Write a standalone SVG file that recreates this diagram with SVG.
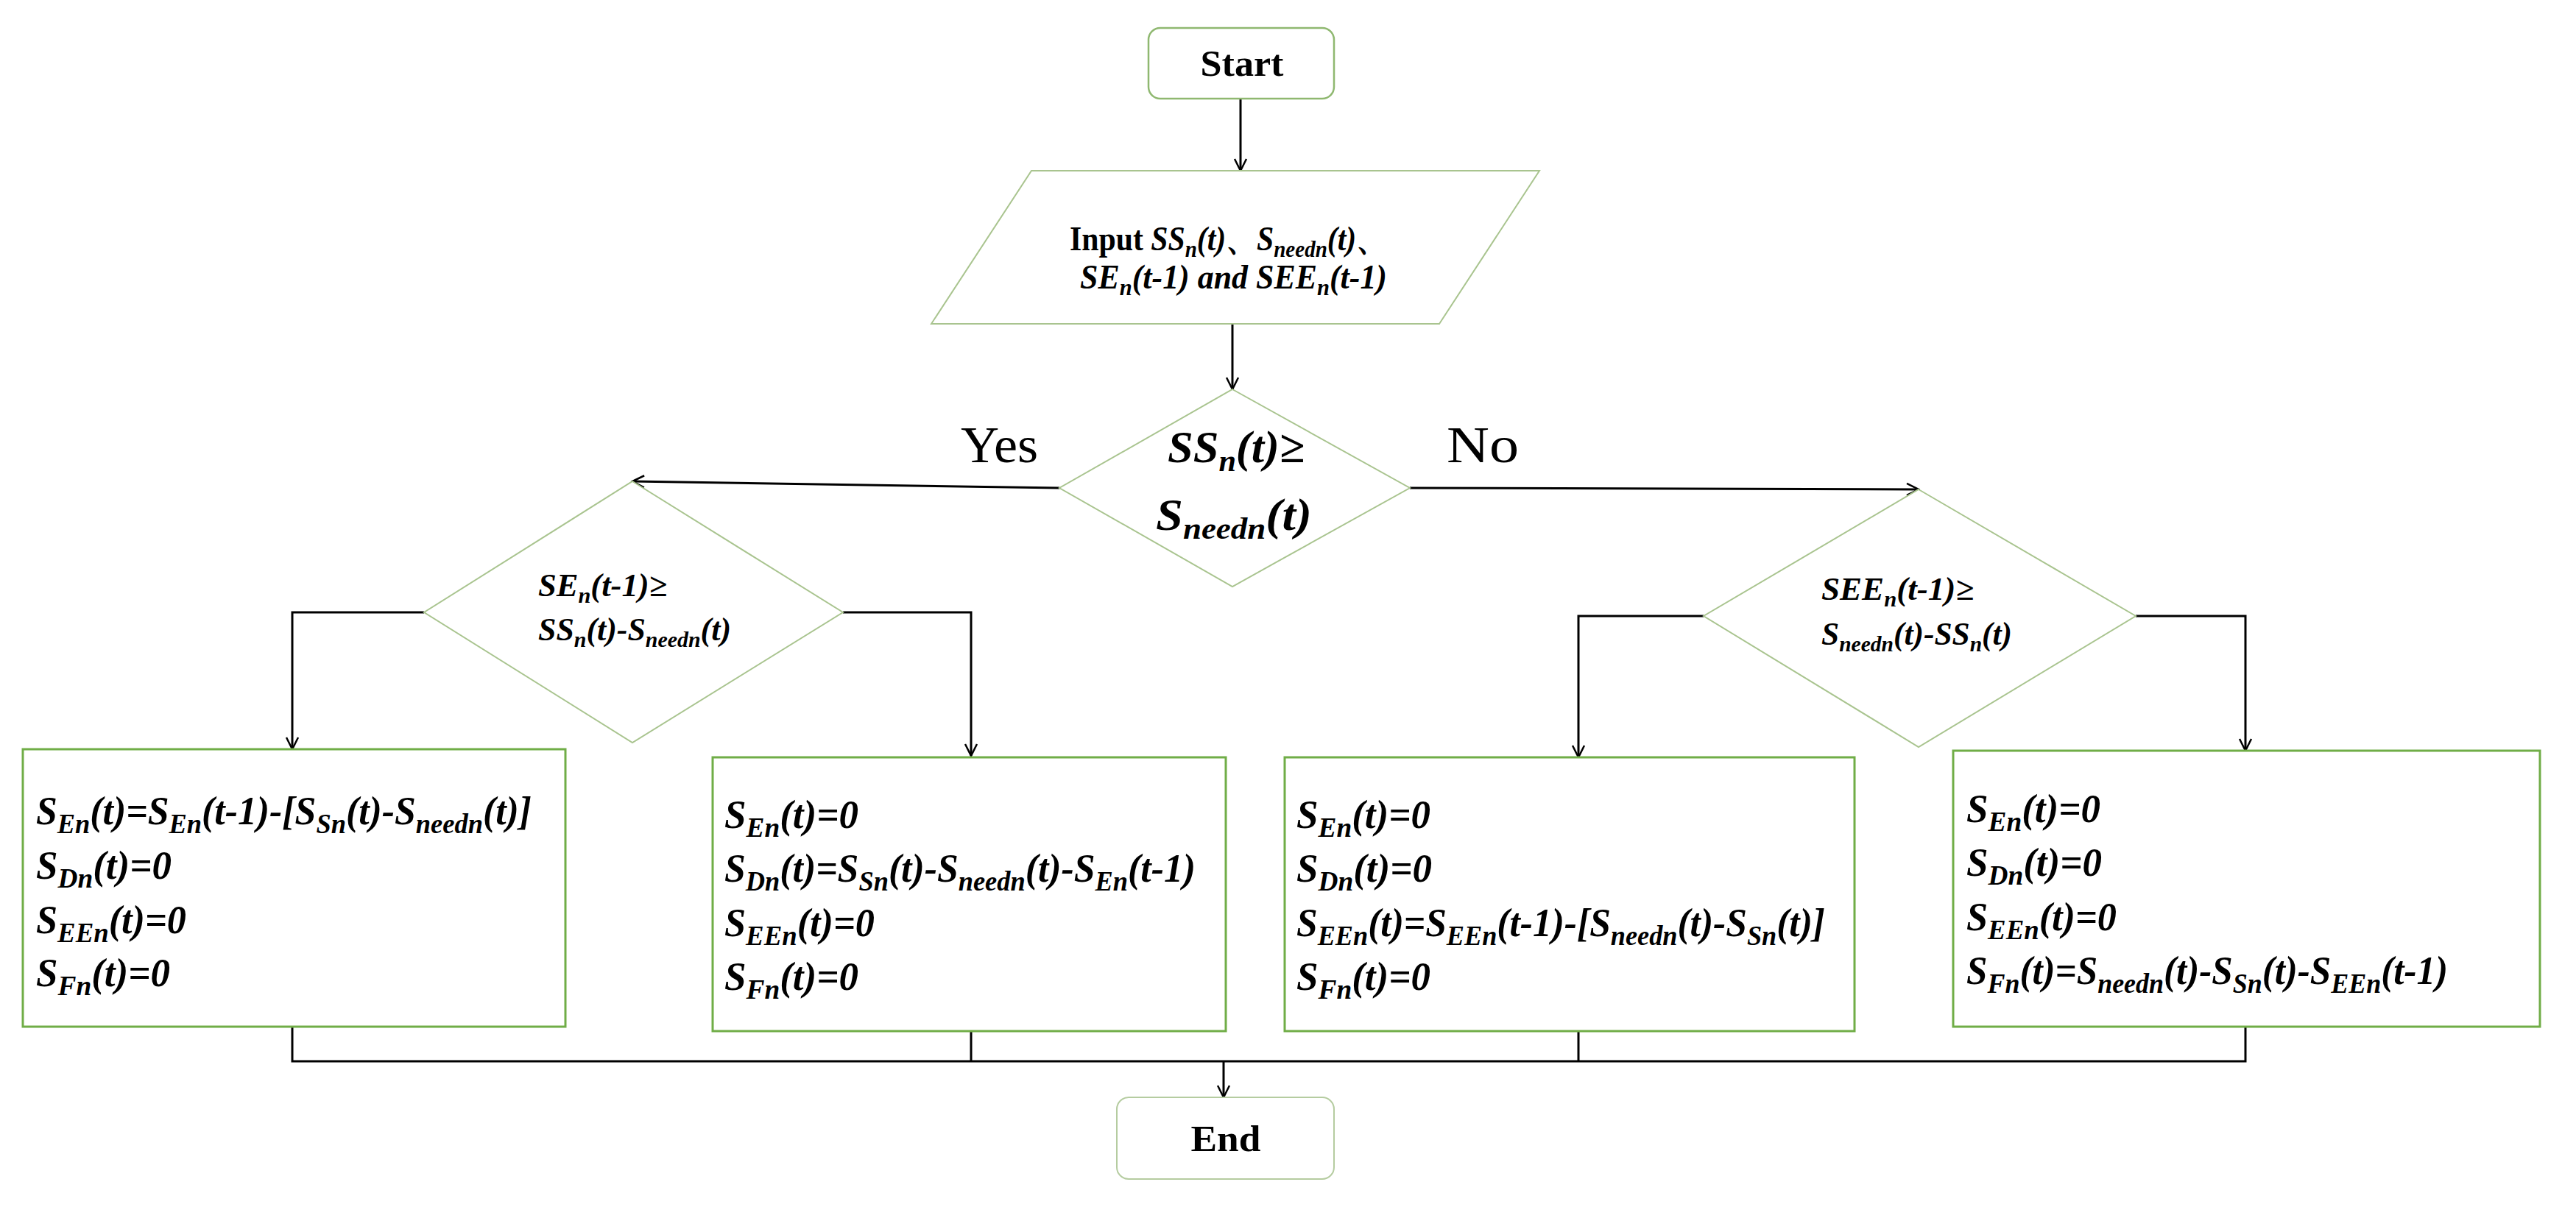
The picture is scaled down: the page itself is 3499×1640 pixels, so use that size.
<svg xmlns="http://www.w3.org/2000/svg" width="3499" height="1640" viewBox="0 0 3499 1640">
<style>
.t{font-family:"Liberation Serif",serif;font-weight:bold;font-style:italic;fill:#000}
.u{font-family:"Liberation Serif",serif;font-weight:bold;fill:#000}
.box{fill:#fff;stroke:#70ad47;stroke-width:3}
.dia{fill:#fff;stroke:#a9c48f;stroke-width:2}
.c{fill:none;stroke:#000;stroke-width:3}
</style>
<defs>
<marker id="a" viewBox="0 0 20 20" refX="18" refY="10" markerWidth="20" markerHeight="20" markerUnits="userSpaceOnUse" orient="auto"><path d="M2,2 L18,10 L2,18" fill="none" stroke="#000" stroke-width="2.5"/></marker>
</defs>
<rect width="3499" height="1640" fill="#fff"/>
<g id="connectors">
<path class="c" d="M1685,134 V232" marker-end="url(#a)"/>
<path class="c" d="M1674,440 V529" marker-end="url(#a)"/>
<path class="c" d="M1439,663 L859,654" marker-end="url(#a)"/>
<path class="c" d="M1915,663 L2606,665" marker-end="url(#a)"/>
<path class="c" d="M576,832 H397 V1018" marker-end="url(#a)"/>
<path class="c" d="M1145,832 H1319 V1027" marker-end="url(#a)"/>
<path class="c" d="M2314,837 H2144 V1029" marker-end="url(#a)"/>
<path class="c" d="M2901,837 H3050 V1020" marker-end="url(#a)"/>
<path class="c" d="M397,1395 V1442 H3050 V1395 M1319,1401 V1442 M2144,1401 V1442"/>
<path class="c" d="M1662,1442 V1491" marker-end="url(#a)"/>
</g>
<g id="start">
<rect x="1560" y="38" width="252" height="96" rx="16" fill="#fff" stroke="#8fb870" stroke-width="2.5"/>
<text class="u" x="1687" y="103" font-size="50" text-anchor="middle" textLength="113" lengthAdjust="spacingAndGlyphs">Start</text>
</g>
<g id="input">
<polygon class="dia" points="1401,232 2091,232 1955,440 1265,440"/>
<text class="u" x="1453" y="340" font-size="46" textLength="431" lengthAdjust="spacingAndGlyphs">Input <tspan class="t">SS<tspan font-size="32" dy="9">n</tspan><tspan dy="-9">(t)</tspan></tspan>、<tspan class="t">S<tspan font-size="32" dy="9">needn</tspan><tspan dy="-9">(t)</tspan></tspan>、</text>
<text class="t" x="1467" y="392" font-size="46" textLength="417" lengthAdjust="spacingAndGlyphs">SE<tspan font-size="32" dy="9">n</tspan><tspan dy="-9">(t-1) and SEE</tspan><tspan font-size="32" dy="9">n</tspan><tspan dy="-9">(t-1)</tspan></text>
</g>
<g id="d1">
<polygon class="dia" points="1674,529 1915,663 1674,797 1439,663"/>
<text class="t" x="1586" y="628" font-size="62" textLength="186" lengthAdjust="spacingAndGlyphs">SS<tspan font-size="42" dy="12">n</tspan><tspan dy="-12">(t)≥</tspan></text>
<text class="t" x="1570" y="720" font-size="62" textLength="212" lengthAdjust="spacingAndGlyphs">S<tspan font-size="42" dy="12">needn</tspan><tspan dy="-12">(t)</tspan></text>
</g>
<g id="labels">
<text x="1305" y="628" font-family="Liberation Serif,serif" font-size="70" textLength="105" lengthAdjust="spacingAndGlyphs">Yes</text>
<text x="1965" y="628" font-family="Liberation Serif,serif" font-size="70" textLength="98" lengthAdjust="spacingAndGlyphs">No</text>
</g>
<g id="d2">
<polygon class="dia" points="859,654 1145,832 859,1009 576,832"/>
<text class="t" x="731" y="810" font-size="44" textLength="175" lengthAdjust="spacingAndGlyphs">SE<tspan font-size="30" dy="9">n</tspan><tspan dy="-9">(t-1)≥</tspan></text>
<text class="t" x="731" y="870" font-size="44" textLength="262" lengthAdjust="spacingAndGlyphs">SS<tspan font-size="30" dy="9">n</tspan><tspan dy="-9">(t)-S</tspan><tspan font-size="30" dy="9">needn</tspan><tspan dy="-9">(t)</tspan></text>
</g>
<g id="d3">
<polygon class="dia" points="2606,665 2901,837 2606,1015 2314,837"/>
<text class="t" x="2474" y="815" font-size="44" textLength="207" lengthAdjust="spacingAndGlyphs">SEE<tspan font-size="30" dy="9">n</tspan><tspan dy="-9">(t-1)≥</tspan></text>
<text class="t" x="2474" y="876" font-size="44" textLength="259" lengthAdjust="spacingAndGlyphs">S<tspan font-size="30" dy="9">needn</tspan><tspan dy="-9">(t)-SS</tspan><tspan font-size="30" dy="9">n</tspan><tspan dy="-9">(t)</tspan></text>
</g>
<g id="b1">
<rect class="box" x="31" y="1018" width="737" height="377" stroke="#a9c48f"/>
<text class="t" x="49" y="1120" font-size="54" textLength="673" lengthAdjust="spacingAndGlyphs">S<tspan font-size="38" dy="12">En</tspan><tspan dy="-12">(t)=S</tspan><tspan font-size="38" dy="12">En</tspan><tspan dy="-12">(t-1)-[S</tspan><tspan font-size="38" dy="12">Sn</tspan><tspan dy="-12">(t)-S</tspan><tspan font-size="38" dy="12">needn</tspan><tspan dy="-12">(t)]</tspan></text>
<text class="t" x="49" y="1194" font-size="54" textLength="184" lengthAdjust="spacingAndGlyphs">S<tspan font-size="38" dy="12">Dn</tspan><tspan dy="-12">(t)=0</tspan></text>
<text class="t" x="49" y="1268" font-size="54" textLength="204" lengthAdjust="spacingAndGlyphs">S<tspan font-size="38" dy="12">EEn</tspan><tspan dy="-12">(t)=0</tspan></text>
<text class="t" x="49" y="1340" font-size="54" textLength="182" lengthAdjust="spacingAndGlyphs">S<tspan font-size="38" dy="12">Fn</tspan><tspan dy="-12">(t)=0</tspan></text>
</g>
<g id="b2">
<rect class="box" x="968" y="1029" width="697" height="372"/>
<text class="t" x="984" y="1125" font-size="54" textLength="182" lengthAdjust="spacingAndGlyphs">S<tspan font-size="38" dy="12">En</tspan><tspan dy="-12">(t)=0</tspan></text>
<text class="t" x="984" y="1198" font-size="54" textLength="640" lengthAdjust="spacingAndGlyphs">S<tspan font-size="38" dy="12">Dn</tspan><tspan dy="-12">(t)=S</tspan><tspan font-size="38" dy="12">Sn</tspan><tspan dy="-12">(t)-S</tspan><tspan font-size="38" dy="12">needn</tspan><tspan dy="-12">(t)-S</tspan><tspan font-size="38" dy="12">En</tspan><tspan dy="-12">(t-1)</tspan></text>
<text class="t" x="984" y="1272" font-size="54" textLength="204" lengthAdjust="spacingAndGlyphs">S<tspan font-size="38" dy="12">EEn</tspan><tspan dy="-12">(t)=0</tspan></text>
<text class="t" x="984" y="1345" font-size="54" textLength="182" lengthAdjust="spacingAndGlyphs">S<tspan font-size="38" dy="12">Fn</tspan><tspan dy="-12">(t)=0</tspan></text>
</g>
<g id="b3">
<rect class="box" x="1745" y="1029" width="774" height="372"/>
<text class="t" x="1761" y="1125" font-size="54" textLength="182" lengthAdjust="spacingAndGlyphs">S<tspan font-size="38" dy="12">En</tspan><tspan dy="-12">(t)=0</tspan></text>
<text class="t" x="1761" y="1198" font-size="54" textLength="184" lengthAdjust="spacingAndGlyphs">S<tspan font-size="38" dy="12">Dn</tspan><tspan dy="-12">(t)=0</tspan></text>
<text class="t" x="1761" y="1272" font-size="54" textLength="718" lengthAdjust="spacingAndGlyphs">S<tspan font-size="38" dy="12">EEn</tspan><tspan dy="-12">(t)=S</tspan><tspan font-size="38" dy="12">EEn</tspan><tspan dy="-12">(t-1)-[S</tspan><tspan font-size="38" dy="12">needn</tspan><tspan dy="-12">(t)-S</tspan><tspan font-size="38" dy="12">Sn</tspan><tspan dy="-12">(t)]</tspan></text>
<text class="t" x="1761" y="1345" font-size="54" textLength="182" lengthAdjust="spacingAndGlyphs">S<tspan font-size="38" dy="12">Fn</tspan><tspan dy="-12">(t)=0</tspan></text>
</g>
<g id="b4">
<rect class="box" x="2653" y="1020" width="797" height="375"/>
<text class="t" x="2671" y="1117" font-size="54" textLength="182" lengthAdjust="spacingAndGlyphs">S<tspan font-size="38" dy="12">En</tspan><tspan dy="-12">(t)=0</tspan></text>
<text class="t" x="2671" y="1190" font-size="54" textLength="184" lengthAdjust="spacingAndGlyphs">S<tspan font-size="38" dy="12">Dn</tspan><tspan dy="-12">(t)=0</tspan></text>
<text class="t" x="2671" y="1264" font-size="54" textLength="204" lengthAdjust="spacingAndGlyphs">S<tspan font-size="38" dy="12">EEn</tspan><tspan dy="-12">(t)=0</tspan></text>
<text class="t" x="2671" y="1337" font-size="54" textLength="654" lengthAdjust="spacingAndGlyphs">S<tspan font-size="38" dy="12">Fn</tspan><tspan dy="-12">(t)=S</tspan><tspan font-size="38" dy="12">needn</tspan><tspan dy="-12">(t)-S</tspan><tspan font-size="38" dy="12">Sn</tspan><tspan dy="-12">(t)-S</tspan><tspan font-size="38" dy="12">EEn</tspan><tspan dy="-12">(t-1)</tspan></text>
</g>
<g id="end">
<rect x="1517" y="1491" width="295" height="111" rx="16" fill="#fff" stroke="#b5cca0" stroke-width="2"/>
<text class="u" x="1665" y="1564" font-size="50" text-anchor="middle" textLength="95" lengthAdjust="spacingAndGlyphs">End</text>
</g>
</svg>
